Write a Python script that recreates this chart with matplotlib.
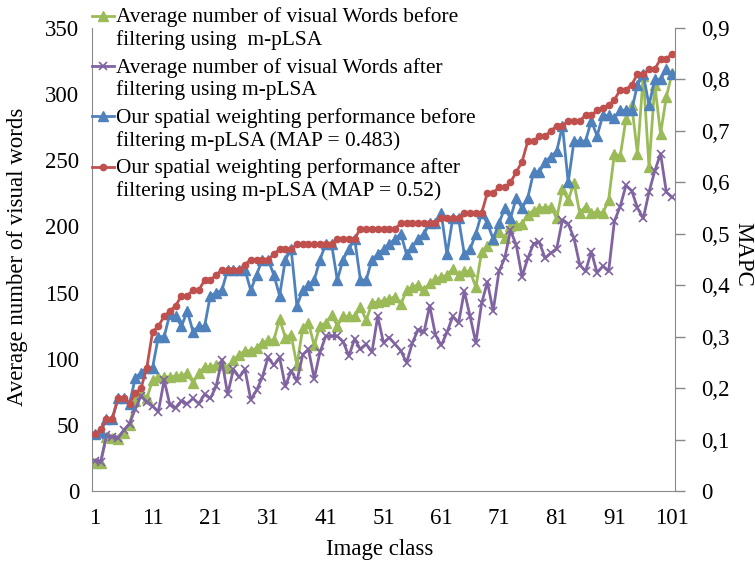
import matplotlib
matplotlib.use('Agg')
import matplotlib.pyplot as plt
from matplotlib.lines import Line2D
from matplotlib.ticker import FuncFormatter

plt.rcParams['font.family'] = ['Liberation Serif', 'DejaVu Serif']

classes = list(range(1, 102))

# average number of visual words (left axis)
words_before = [21, 21, 41, 40, 39, 44, 50, 68, 74, 70,
                84, 86, 86, 86, 87, 87, 89, 82, 89, 94,
                94, 95, 97, 93, 99, 103, 106, 106, 108, 112,
                114, 114, 130, 116, 118, 95, 123, 127, 110, 125,
                127, 133, 125, 132, 132, 132, 139, 129, 142, 143,
                144, 145, 147, 141, 152, 154, 156, 152, 157, 160,
                162, 163, 168, 163, 166, 166, 154, 181, 185, 190,
                196, 191, 200, 201, 202, 209, 212, 214, 214, 215,
                206, 228, 220, 233, 210, 215, 210, 211, 210, 220,
                255, 253, 281, 292, 255, 314, 245, 307, 270, 298,
                316]
words_after = [23, 22, 42, 41, 40, 46, 51, 62, 72, 67,
               64, 60, 84, 65, 63, 68, 66, 70, 66, 73,
               70, 79, 99, 73, 92, 86, 92, 69, 76, 86,
               101, 95, 101, 79, 91, 83, 103, 107, 85, 105,
               117, 117, 117, 113, 102, 115, 107, 111, 105, 132,
               112, 116, 111, 106, 97, 112, 122, 120, 140, 118,
               110, 120, 132, 127, 151, 132, 112, 142, 158, 136,
               166, 176, 197, 186, 162, 176, 187, 188, 176, 180,
               183, 205, 202, 191, 171, 166, 181, 165, 170, 166,
               204, 215, 231, 227, 214, 206, 226, 242, 255, 226,
               222]

# MAP per class (right axis)
map_before = [0.11, 0.115, 0.14, 0.14, 0.18, 0.18, 0.17, 0.22, 0.23, 0.24,
              0.24, 0.30, 0.30, 0.345, 0.34, 0.32, 0.35, 0.31, 0.32, 0.32,
              0.38, 0.385, 0.39, 0.43, 0.43, 0.43, 0.43, 0.39, 0.42, 0.45,
              0.45, 0.42, 0.38, 0.45, 0.47, 0.36, 0.39, 0.40, 0.41, 0.45,
              0.48, 0.48, 0.41, 0.45, 0.47, 0.49, 0.41, 0.41, 0.45, 0.46,
              0.47, 0.48, 0.49, 0.50, 0.46, 0.475, 0.49, 0.50, 0.52, 0.52,
              0.54, 0.46, 0.53, 0.53, 0.46, 0.47, 0.50, 0.54, 0.52, 0.49,
              0.52, 0.55, 0.53, 0.57, 0.55, 0.57, 0.62, 0.62, 0.64, 0.65,
              0.66, 0.71, 0.60, 0.68, 0.68, 0.68, 0.72, 0.69, 0.73, 0.73,
              0.725, 0.74, 0.74, 0.74, 0.79, 0.81, 0.75, 0.80, 0.80, 0.82,
              0.81]
map_after = [0.11, 0.12, 0.14, 0.14, 0.18, 0.18, 0.17, 0.19, 0.20, 0.24,
             0.31, 0.32, 0.34, 0.35, 0.36, 0.38, 0.38, 0.39, 0.39, 0.41,
             0.41, 0.42, 0.43, 0.43, 0.43, 0.43, 0.44, 0.45, 0.45, 0.45,
             0.45, 0.46, 0.47, 0.47, 0.47, 0.48, 0.48, 0.48, 0.48, 0.48,
             0.48, 0.48, 0.49, 0.49, 0.49, 0.49, 0.51, 0.51, 0.51, 0.51,
             0.51, 0.51, 0.51, 0.52, 0.52, 0.52, 0.52, 0.52, 0.52, 0.52,
             0.53, 0.53, 0.53, 0.53, 0.54, 0.54, 0.54, 0.54, 0.58, 0.58,
             0.59, 0.59, 0.60, 0.62, 0.64, 0.68, 0.68, 0.69, 0.69, 0.70,
             0.71, 0.71, 0.72, 0.72, 0.72, 0.73, 0.73, 0.74, 0.745, 0.75,
             0.76, 0.78, 0.78, 0.79, 0.81, 0.81, 0.82, 0.82, 0.84, 0.84,
             0.85]

labels = ['Average number of visual Words before\nfiltering using  m-pLSA',
          'Average number of visual Words after\nfiltering using m-pLSA',
          'Our spatial weighting performance before\nfiltering m-pLSA (MAP = 0.483)',
          'Our spatial weighting performance after\nfiltering using m-pLSA (MAP = 0.52)']

green = '#9BBB59'
purple = '#8064A2'
blue = '#4F81BD'
red = '#C0504D'
gray = '#898989'

W, H = 755, 568
fig = plt.figure(figsize=(W / 100, H / 100), dpi=100)
ax = fig.add_axes([92 / W, 77 / H, 583 / W, 463 / H])
ax2 = ax.twinx()

styles = [dict(color=green, marker='^', ms=6.8, mec=green),
          dict(color=purple, marker='x', ms=6, mew=1.2),
          dict(color=blue, marker='^', ms=6.8, mec=blue),
          dict(color=red, marker='o', ms=4.5, mec=red)]

ax.plot(classes, words_before, lw=2, **styles[0])
ax.plot(classes, words_after, lw=2, **styles[1])
ax2.plot(classes, map_before, lw=2, **styles[2])
ax2.plot(classes, map_after, lw=2, **styles[3])

ax.set_xlim(0.5, 101.5)
ax.set_ylim(0, 350)
ax2.set_ylim(0, 0.9)
ax.set_xticks(range(1, 102, 10))
ax.set_yticks(range(0, 351, 50))
ax2.set_yticks([i / 10 for i in range(10)])
ax2.yaxis.set_major_formatter(FuncFormatter(
    lambda v, p: '0' if abs(v) < 1e-9 else ('%.1f' % v).replace('.', ',')))

for a in (ax, ax2):
    a.spines['top'].set_visible(False)
    for s in a.spines.values():
        s.set_color(gray)
ax.spines['right'].set_visible(False)
ax2.spines['left'].set_visible(False)
ax2.spines['bottom'].set_visible(False)

ax.tick_params(axis='x', length=0, pad=12, labelsize=16.5)
ax.tick_params(axis='y', length=0, pad=9, labelsize=16.5)
ax2.tick_params(axis='y', length=7, width=1, color=gray, pad=12, labelsize=16.5)

ax.set_xlabel('Image class', fontsize=16.5)
ax.xaxis.set_label_coords(0.494, -0.127)
ax.xaxis.label.set_va('center')
ax.set_ylabel('Average number of visual words', fontsize=16.5)
ax.yaxis.set_label_coords(-0.127, 0.505)
ax.yaxis.label.set_va('center')
ax2.set_ylabel('MAPC', fontsize=16.5, rotation=270)
ax2.yaxis.set_label_coords(1.117, 0.51)
ax2.yaxis.label.set_va('center')

# legend drawn by hand so the marker sits on the first text line
for k, lab in enumerate(labels):
    y1 = 1 - (15.7 + 50.3 * k) / H
    fig.add_artist(Line2D([92 / W, 114 / W], [y1, y1], lw=2,
                          color=styles[k]['color'], transform=fig.transFigure))
    fig.add_artist(Line2D([103 / W], [y1], lw=0, transform=fig.transFigure,
                          **styles[k]))
    fig.text(116 / W, 1 - (28.7 + 50.3 * k) / H, lab, ha='left', va='center',
             fontsize=15.4, linespacing=1.2)

fig.savefig('out.png', dpi=100)
